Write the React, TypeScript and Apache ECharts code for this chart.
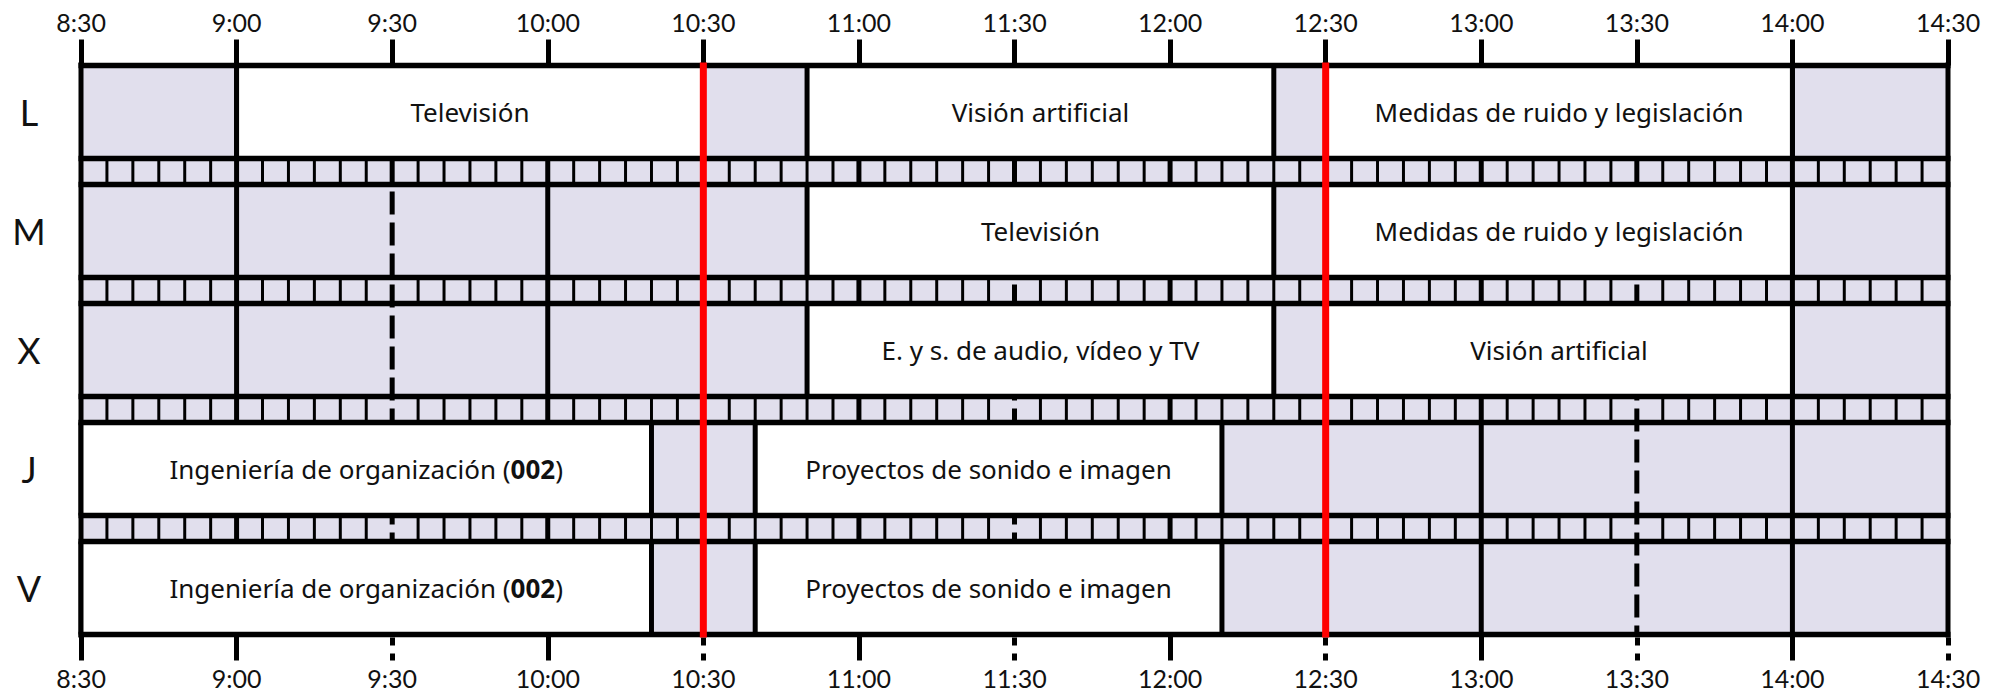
import React, { useEffect, useRef } from 'react';
import * as echarts from 'echarts';

// ---- data ----
const DAYS = ['L', 'M', 'X', 'J', 'V'];
const TICK_LABELS = ['8:30', '9:00', '9:30', '10:00', '10:30', '11:00', '11:30', '12:00', '12:30', '13:00', '13:30', '14:00', '14:30'];
const CLASS_DAYS = ['L', 'L', 'L', 'M', 'M', 'X', 'X', 'J', 'J', 'V', 'V'];
const CLASS_STARTS = ['9:00', '10:50', '12:30', '10:50', '12:30', '10:50', '12:30', '8:30', '10:40', '8:30', '10:40'];
const CLASS_ENDS = ['10:30', '12:20', '14:00', '12:20', '14:00', '12:20', '14:00', '10:20', '12:10', '10:20', '12:10'];
const CLASS_NAMES = [
  'Televisión',
  'Visión artificial',
  'Medidas de ruido y legislación',
  'Televisión',
  'Medidas de ruido y legislación',
  'E. y s. de audio, vídeo y TV',
  'Visión artificial',
  'Ingeniería de organización ({b|002})',
  'Proyectos de sonido e imagen',
  'Ingeniería de organización ({b|002})',
  'Proyectos de sonido e imagen',
];
const MARKED_TIMES = ['10:30', '12:30'];
const STRIP_STEP = 5; // minutes between strip marks
const AXIS_INTERVAL = 30;

// ---- styles ----
const FONT = 'Lato';
const BOX_FONT = 'Noto Sans';
const BOX_FONT_SIZE = 26;
const LAVENDER = '#E1DFED';
const INK = '#111111';
const ROW_RATIO = 93 / 119;

const toMin = (s: string) => {
  const [h, m] = s.split(':').map(Number);
  return h * 60 + m;
};
const TIME_MIN = toMin(TICK_LABELS[0]);
const TIME_MAX = toMin(TICK_LABELS[TICK_LABELS.length - 1]);
const TICK_VALUES = TICK_LABELS.map(toMin);
const fmt = (v: number) => {
  const i = TICK_VALUES.indexOf(v);
  return i >= 0 ? TICK_LABELS[i] : '';
};
const SOLID_BOTTOM_TICKS = TICK_VALUES.filter((v) => v === TIME_MIN || v % 60 === 0);
const DASHED_BOTTOM_TICKS = TICK_VALUES.filter((v) => v !== TIME_MIN && v % 60 !== 0);

const half = (api: any) => (api.size([0, 1])[1] * ROW_RATIO) / 2;

export default function App() {
  const ref = useRef<HTMLDivElement>(null);
  useEffect(() => {
    const chart = echarts.init(ref.current!, null, { renderer: 'svg' });
    const lastDay = DAYS.length - 1;
    const baseAxis = {
      type: 'value',
      min: TIME_MIN,
      max: TIME_MAX,
      interval: AXIS_INTERVAL,
      splitLine: { show: false },
      axisLine: { show: false },
    };
    const option: any = {
      animation: false,
      grid: { left: 81, right: 53, top: 52.5, bottom: 46.5 },
      xAxis: [
        {
          ...baseAxis,
          position: 'top',
          offset: -13,
          axisTick: { show: true, length: 26, lineStyle: { color: '#000', width: 5 } },
          axisLabel: { formatter: fmt, fontFamily: FONT, fontSize: 25, color: INK, margin: 31 },
        },
        {
          ...baseAxis,
          position: 'bottom',
          offset: -13,
          axisTick: {
            show: true,
            length: 26,
            customValues: DASHED_BOTTOM_TICKS,
            lineStyle: { color: '#000', width: 5, type: [8, 8], dashOffset: 13 },
          },
          axisLabel: { formatter: fmt, fontFamily: FONT, fontSize: 25, color: INK, margin: 31 },
        },
        {
          ...baseAxis,
          position: 'bottom',
          offset: -13,
          axisTick: {
            show: true,
            length: 26,
            customValues: SOLID_BOTTOM_TICKS,
            lineStyle: { color: '#000', width: 5 },
          },
          axisLabel: { show: false },
        },
      ],
      yAxis: {
        type: 'category',
        data: DAYS,
        inverse: true,
        axisLine: { show: false },
        axisTick: { show: false },
        splitLine: { show: false },
        axisLabel: { fontFamily: FONT, fontSize: 36, color: INK, align: 'center', margin: 52 },
      },
      series: [
        {
          // background of the timetable
          type: 'custom',
          z: 2,
          encode: { x: [0, 2], y: 1 },
          data: [[TIME_MIN, 0, TIME_MAX]],
          renderItem: (params: any, api: any) => {
            const h = half(api);
            const a = api.coord([api.value(0), 0]);
            const b = api.coord([api.value(2), lastDay]);
            return {
              type: 'rect',
              shape: { x: a[0], y: a[1] - h, width: b[0] - a[0], height: b[1] + h - (a[1] - h) },
              style: { fill: LAVENDER },
            };
          },
        },
        {
          // vertical grid lines every half hour
          type: 'custom',
          z: 3,
          encode: { x: 0, y: 1 },
          data: TICK_VALUES.filter((v) => !MARKED_TIMES.map(toMin).includes(v)).map((v) => [v, 0]),
          renderItem: (params: any, api: any) => {
            const h = half(api);
            const t = api.value(0);
            const a = api.coord([t, 0]);
            const b = api.coord([t, lastDay]);
            const border = t === TIME_MIN || t === TIME_MAX;
            const solid = border || t % 60 === 0;
            return {
              type: 'line',
              shape: { x1: a[0], y1: a[1] - h - (border ? 3 : 0), x2: a[0], y2: b[1] + h + (border ? 3 : 0) },
              style: solid
                ? { stroke: '#000', lineWidth: 5 }
                : { stroke: '#000', lineWidth: 5, lineDash: [23, 8], lineDashOffset: 29 },
            };
          },
        },
        {
          // 5-minute strips between days
          type: 'custom',
          z: 4,
          encode: { x: [0, 2], y: 1 },
          data: DAYS.slice(0, -1).map((_, i) => [TIME_MIN, i, TIME_MAX]),
          renderItem: (params: any, api: any) => {
            const h = half(api);
            const i = api.value(1);
            const y1 = api.coord([TIME_MIN, i])[1] + h;
            const y2 = api.coord([TIME_MIN, i + 1])[1] - h;
            const children: any[] = [];
            for (let t = api.value(0) + STRIP_STEP; t < api.value(2); t += STRIP_STEP) {
              if (t % AXIS_INTERVAL === 0) continue;
              const x = api.coord([t, i])[0];
              children.push({
                type: 'line',
                shape: { x1: x, y1, x2: x, y2 },
                style: { stroke: '#000', lineWidth: 3 },
              });
            }
            return { type: 'group', children };
          },
        },
        {
          // class boxes
          type: 'custom',
          z: 5,
          encode: { x: [0, 2], y: 1 },
          data: CLASS_DAYS.map((d, i) => [toMin(CLASS_STARTS[i]), DAYS.indexOf(d), toMin(CLASS_ENDS[i])]),
          renderItem: (params: any, api: any) => {
            const h = half(api);
            const d = api.value(1);
            const a = api.coord([api.value(0), d]);
            const b = api.coord([api.value(2), d]);
            const top = a[1] - h;
            const bot = a[1] + h;
            return {
              type: 'group',
              children: [
                { type: 'rect', shape: { x: a[0], y: top, width: b[0] - a[0], height: bot - top }, style: { fill: '#fff' } },
                { type: 'line', shape: { x1: a[0], y1: top, x2: a[0], y2: bot }, style: { stroke: '#000', lineWidth: 5 } },
                { type: 'line', shape: { x1: b[0], y1: top, x2: b[0], y2: bot }, style: { stroke: '#000', lineWidth: 5 } },
                {
                  type: 'text',
                  x: (a[0] + b[0]) / 2,
                  y: a[1],
                  style: {
                    text: CLASS_NAMES[params.dataIndex],
                    fontFamily: BOX_FONT,
                    fontSize: BOX_FONT_SIZE,
                    fill: INK,
                    align: 'center',
                    verticalAlign: 'middle',
                    rich: { b: { fontFamily: BOX_FONT, fontSize: BOX_FONT_SIZE, fontWeight: 'bold', fill: INK } },
                  },
                },
              ],
            };
          },
        },
        {
          // horizontal day borders
          type: 'custom',
          z: 6,
          encode: { x: [0, 2], y: 1 },
          data: DAYS.map((_, i) => [TIME_MIN, i, TIME_MAX]),
          renderItem: (params: any, api: any) => {
            const h = half(api);
            const a = api.coord([api.value(0), api.value(1)]);
            const b = api.coord([api.value(2), api.value(1)]);
            const x1 = a[0] - 2.5;
            const x2 = b[0] + 2.5;
            return {
              type: 'group',
              children: [
                { type: 'line', shape: { x1, y1: a[1] - h, x2, y2: a[1] - h }, style: { stroke: '#000', lineWidth: 5.5 } },
                { type: 'line', shape: { x1, y1: a[1] + h, x2, y2: a[1] + h }, style: { stroke: '#000', lineWidth: 5.5 } },
              ],
            };
          },
        },
        {
          // red marks
          type: 'custom',
          z: 7,
          encode: { x: 0, y: 1 },
          data: MARKED_TIMES.map((t) => [toMin(t), 0]),
          renderItem: (params: any, api: any) => {
            const h = half(api);
            const a = api.coord([api.value(0), 0]);
            const b = api.coord([api.value(0), lastDay]);
            return {
              type: 'line',
              shape: { x1: a[0], y1: a[1] - h - 3, x2: a[0], y2: b[1] + h + 3 },
              style: { stroke: '#FF0000', lineWidth: 7 },
            };
          },
        },
      ],
    };
    chart.setOption(option);
    return () => chart.dispose();
  }, []);
  return <div ref={ref} style={{ position: 'absolute', left: 0, top: 0, width: 2001, height: 694 }} />;
}
